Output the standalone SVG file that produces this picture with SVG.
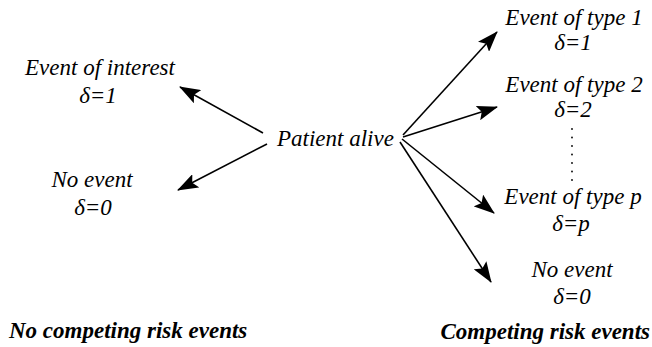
<svg xmlns="http://www.w3.org/2000/svg" width="652" height="347" viewBox="0 0 652 347">
<style>
text{font-family:"Liberation Serif","Times New Roman",serif;font-style:italic;font-size:23px;fill:#000}
.c{text-anchor:middle}
.b{font-weight:bold}
.ln{stroke:#000;stroke-width:1.6;fill:none;marker-end:url(#ah)}
.dot{fill:#000}
</style>
<defs>
<marker id="ah" markerUnits="userSpaceOnUse" markerWidth="21" markerHeight="15" refX="20" refY="7.5" orient="auto" viewBox="0 0 21 15">
<path d="M0,0 L21,7.5 L0,15 L4,7.5 Z" fill="#000"/>
</marker>
</defs>
<rect width="652" height="347" fill="#fff"/>
<g id="connectors">
<line class="ln" x1="263" y1="133" x2="180" y2="87"/>
<line class="ln" x1="267" y1="144" x2="178" y2="190"/>
<line class="ln" x1="403" y1="135" x2="497" y2="32"/>
<line class="ln" x1="403" y1="137" x2="497" y2="107"/>
<line class="ln" x1="402" y1="139" x2="494" y2="213"/>
<line class="ln" x1="400" y1="142" x2="491" y2="282"/>
</g>
<g id="patient">
<text x="277" y="146">Patient alive</text>
</g>
<g id="interest">
<text class="c" x="100" y="75">Event of interest</text>
<text class="c" x="98" y="103">δ=1</text>
</g>
<g id="noevent-left">
<text class="c" x="92" y="187">No event</text>
<text class="c" x="93" y="215">δ=0</text>
</g>
<g id="type1">
<text class="c" x="574" y="25">Event of type 1</text>
<text class="c" x="573" y="50">δ=1</text>
</g>
<g id="type2">
<text class="c" x="574" y="92">Event of type 2</text>
<text class="c" x="573" y="117">δ=2</text>
</g>
<g id="dots">
<circle class="dot" cx="572" cy="129" r="0.9"/>
<circle class="dot" cx="572" cy="137.5" r="0.9"/>
<circle class="dot" cx="572" cy="146" r="0.9"/>
<circle class="dot" cx="572" cy="154.5" r="0.9"/>
<circle class="dot" cx="572" cy="163" r="0.9"/>
<circle class="dot" cx="572" cy="171.5" r="0.9"/>
<circle class="dot" cx="572" cy="180" r="0.9"/>
</g>
<g id="typep">
<text class="c" x="573" y="204">Event of type p</text>
<text class="c" x="571" y="231">δ=p</text>
</g>
<g id="noevent-right">
<text class="c" x="572" y="277">No event</text>
<text class="c" x="572" y="304">δ=0</text>
</g>
<g id="captions">
<text class="b" x="9" y="338">No competing risk events</text>
<text class="b" x="650" y="339" text-anchor="end">Competing risk events</text>
</g>
</svg>
